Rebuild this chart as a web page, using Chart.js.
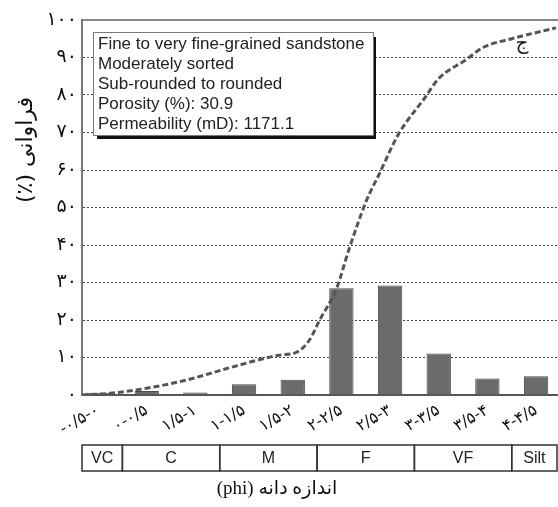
<!DOCTYPE html>
<html>
<head>
<meta charset="utf-8">
<script src="https://cdn.jsdelivr.net/npm/chart.js@4.4.0/dist/chart.umd.min.js"></script>
<style>
	html, body { margin: 0; padding: 0; background: #fff; overflow: hidden; }
	#wrap { width: 558px; height: 507px; position: relative; }
</style>
</head>
<body>
<div id="wrap"><canvas id="chart-grain-size"></canvas></div>
<script>
// size classes (phi) along the bottom axis
const SIZE_CLASSES = ["-۰/۵-۰", "۰-۰/۵", "۱/۵-۱", "۱-۱/۵", "۱/۵-۲", "۲-۲/۵", "۲/۵-۳", "۳-۳/۵", "۳/۵-۴", "۴-۴/۵"];
const WEIGHT_PCT = [0.6, 1.1, 0.7, 2.9, 4.1, 28.5, 29.2, 11.1, 4.4, 5.0];

// cumulative curve (x in class index units)
const CUM_POS = [-0.33, 0.25, 1.0, 1.82, 2.77, 3.71, 4.08, 4.34, 4.55, 4.9, 5.16, 5.51, 5.78, 6.17, 6.7, 7.0, 7.56, 7.93, 8.5, 9.41];
const CUM_PCT = [0, 0.45, 1.8, 4.0, 7.5, 10.6, 11.4, 14.6, 19.9, 28.4, 39, 51.7, 59, 69.5, 79, 84.4, 89.4, 92.8, 95, 97.9];

const Y_TICKS = ["۰", "۱۰", "۲۰", "۳۰", "۴۰", "۵۰", "۶۰", "۷۰", "۸۰", "۹۰", "۱۰۰"];

const TEXTURE_CLASSES = ["VC", "C", "M", "F", "VF", "Silt"];
const TEXTURE_EDGES = [-0.33, 0.5, 2.5, 4.5, 6.5, 8.5, 9.43];

const SAMPLE_NOTES = [
	"Fine to very fine-grained sandstone",
	"Moderately sorted",
	"Sub-rounded to rounded",
	"Porosity (%): 30.9",
	"Permeability (mD): 1171.1",
];
const PANEL_LABEL = "ج";
const X_TITLE = "اندازه دانه (phi)";
const Y_TITLE = "فراوانی (٪)";

const X_MIN = -0.33;
const X_MAX = 9.43;

const CHART_WRAPPER = document.getElementById("chart-grain-size");

// extras drawn on top: info box, texture strip, axis titles
const extrasPlugin = {
	id: "extras",
	afterDraw(chart) {
		const ctx = chart.ctx;
		const xs = chart.scales.x;
		ctx.save();

		// info box with drop shadow
		ctx.fillStyle = "#111";
		ctx.fillRect(97, 37, 279, 102);
		ctx.fillStyle = "#fff";
		ctx.fillRect(93, 32, 280, 103);
		ctx.strokeStyle = "#777";
		ctx.lineWidth = 1;
		ctx.strokeRect(93.5, 32.5, 280, 103);
		ctx.fillStyle = "#222";
		ctx.font = "17px 'Liberation Sans', Arial, sans-serif";
		ctx.textAlign = "left";
		ctx.textBaseline = "middle";
		SAMPLE_NOTES.forEach((t, i) => ctx.fillText(t, 98, 44 + i * 20));

		// panel label
		ctx.font = "20px 'DejaVu Sans'";
		ctx.textAlign = "center";
		ctx.fillText(PANEL_LABEL, 522, 44);

		// texture strip
		const top = 445, h = 26;
		ctx.strokeStyle = "#333";
		ctx.lineWidth = 1.5;
		ctx.font = "16px 'Liberation Sans', Arial, sans-serif";
		ctx.fillStyle = "#222";
		TEXTURE_CLASSES.forEach((name, i) => {
			const x0 = xs.getPixelForValue(TEXTURE_EDGES[i]);
			const x1 = xs.getPixelForValue(TEXTURE_EDGES[i + 1]);
			ctx.strokeRect(x0, top, x1 - x0, h);
			ctx.fillText(name, (x0 + x1) / 2, top + h / 2 + 1);
		});

		// axis titles (rtl)
		ctx.direction = "rtl";
		ctx.fillStyle = "#111";
		ctx.font = "19px 'Liberation Serif', 'DejaVu Sans', serif";
		ctx.textAlign = "center";
		ctx.fillText(X_TITLE, 277, 489);

		ctx.translate(26, 150);
		ctx.rotate(-Math.PI / 2);
		ctx.font = "22px 'DejaVu Sans', sans-serif";
		ctx.fillText(Y_TITLE, 0, 0);
		ctx.restore();
	},
};

const CHART_DATA = {
	datasets: [
		{
			type: "line",
			label: "Cumulative",
			data: CUM_POS.map((x, i) => ({ x, y: CUM_PCT[i] })),
			borderColor: "#555",
			borderWidth: 3,
			borderDash: [6, 3],
			pointRadius: 0,
			cubicInterpolationMode: "monotone",
			fill: false,
			order: 0,
		},
		{
			type: "bar",
			label: "Frequency",
			data: WEIGHT_PCT.map((y, i) => ({ x: i, y })),
			backgroundColor: "#6b6b6b",
			borderColor: "#4a4a4a",
			borderWidth: 1,
			barPercentage: 0.5,
			categoryPercentage: 1,
			order: 1,
		},
	],
};

const CHART_CONFIG = {
	data: CHART_DATA,
	options: {
		responsive: true,
		maintainAspectRatio: false,
		animation: false,
		layout: { padding: { top: 20, right: 1, left: 0, bottom: 0 } },
		plugins: {
			legend: { display: false },
			title: { display: false },
			tooltip: { enabled: false },
		},
		scales: {
			x: {
				type: "linear",
				position: "bottom",
				offset: false,
				min: X_MIN,
				max: X_MAX,
				afterBuildTicks: (axis) => {
					axis.ticks = SIZE_CLASSES.map((_, i) => ({ value: i }));
				},
				afterFit: (axis) => {
					axis.height = 112;
					axis.paddingLeft = 0;
					axis.paddingRight = 0;
				},
				grid: { display: false, drawTicks: false, offset: false },
				border: { display: true, color: "#555", width: 2 },
				ticks: {
					autoSkip: false,
					minRotation: 30,
					maxRotation: 30,
					padding: 6,
					color: "#111",
					font: { family: "'DejaVu Sans'", size: 16 },
					callback: (value) => SIZE_CLASSES[value],
				},
			},
			xTop: {
				type: "linear",
				position: "top",
				offset: false,
				min: X_MIN,
				max: X_MAX,
				afterFit: (axis) => {
					axis.height = 0;
					axis.paddingLeft = 0;
					axis.paddingRight = 0;
				},
				grid: { display: false, drawTicks: false },
				border: { display: true, color: "#888", width: 2 },
				ticks: { display: false },
			},
			y: {
				min: 0,
				max: 100,
				afterFit: (axis) => {
					axis.width = 82;
					axis.paddingTop = 0;
					axis.paddingBottom = 0;
				},
				grid: {
					drawTicks: false,
					lineWidth: 1,
					color: (c) => (c.tick && c.tick.value > 0 && c.tick.value < 100 ? "#444" : "transparent"),
				},
				border: { display: true, color: "#777", width: 2, dash: [2, 2] },
				ticks: {
					stepSize: 10,
					padding: 5,
					color: "#111",
					font: { family: "'DejaVu Sans'", size: 19 },
					callback: (value) => Y_TICKS[Math.round(value / 10)],
				},
			},
		},
	},
	plugins: [extrasPlugin],
};

if (CHART_WRAPPER) {
	new Chart(CHART_WRAPPER, CHART_CONFIG);
}
</script>
</body>
</html>
